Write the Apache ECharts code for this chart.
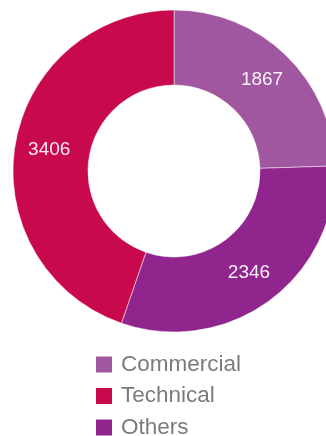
<!DOCTYPE html>
<html>
<head>
<meta charset="utf-8">
<script src="https://cdn.jsdelivr.net/npm/echarts@6/dist/echarts.min.js"></script>
<style>
  html, body { margin: 0; padding: 0; background: #fff; }
  #chart { width: 326px; height: 436px; }
</style>
</head>
<body>
<div id="chart"></div>
<script>
// Ring segments in clockwise order from 12 o'clock
const categories = ['Commercial', 'Others', 'Technical'];
const values = [1867, 2346, 3406];
const colors = ['#a0579f', '#8f258d', '#c8094e'];
// Legend lists the groups in this order
const legendOrder = ['Commercial', 'Technical', 'Others'];

const chart = echarts.init(document.getElementById('chart'), null, { renderer: 'canvas' });

chart.setOption({
  animation: false,
  color: colors,
  legend: {
    data: legendOrder,
    orient: 'vertical',
    left: 94,
    top: 353,
    height: 120,
    padding: 0,
    itemWidth: 18,
    itemHeight: 18,
    itemGap: 8.5,
    icon: 'rect',
    textStyle: {
      fontFamily: 'Liberation Sans, Arial, sans-serif',
      fontSize: 22.5,
      lineHeight: 22,
      color: '#7a7b7e',
      padding: [0, 0, 0, 3]
    }
  },
  series: [{
    type: 'pie',
    center: [174, 171],
    radius: [86, 161],
    startAngle: 90,
    clockwise: true,
    avoidLabelOverlap: false,
    itemStyle: { borderColor: '#ffffff', borderWidth: 0.5 },
    label: {
      show: true,
      position: 'inside',
      formatter: '{c}',
      color: 'rgba(255,255,255,0.92)',
      fontFamily: 'Liberation Sans, Arial, sans-serif',
      fontSize: 19
    },
    labelLine: { show: false },
    emphasis: { disabled: true },
    data: categories.map((name, i) => ({ name, value: values[i] }))
  }]
});
</script>
</body>
</html>
